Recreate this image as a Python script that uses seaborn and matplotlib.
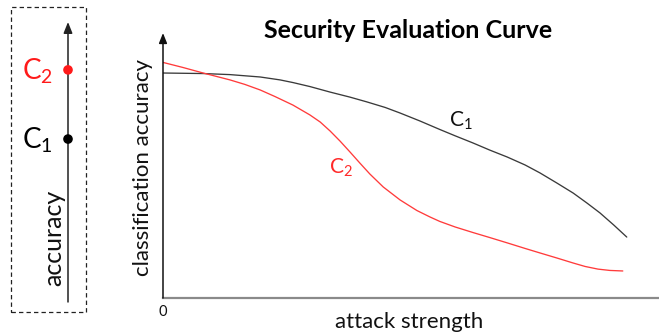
import matplotlib
matplotlib.use("Agg")
import matplotlib.pyplot as plt
from matplotlib.patches import Rectangle
import pandas as pd
import seaborn as sns

# Attack strength (0-100) and classification accuracy (%) for the two classifiers
strength_c1 = [0, 8.1, 13.5, 19.6, 23.6, 26.2, 29.6, 33.7, 37.7, 41.1, 44.8,
               47.8, 51.8, 55.8, 58.9, 62.5, 65.9, 69.4, 73.0, 76.0, 79.4,
               82.7, 85.5, 88.1, 90.9, 93.5]
accuracy_c1 = [84.9, 84.7, 84.3, 83.4, 82.3, 81.3, 79.8, 77.7, 75.8, 74.0,
               71.9, 69.8, 66.8, 63.6, 61.2, 58.5, 55.8, 53.2, 50.2, 47.2,
               43.4, 39.6, 35.8, 32.1, 27.5, 23.0]

strength_c2 = [0, 4.0, 8.1, 13.5, 16.5, 19.6, 22.6, 26.2, 29.6, 31.7, 33.7,
               35.7, 37.7, 39.7, 41.7, 44.4, 47.8, 51.2, 53.8, 55.8, 58.9,
               62.5, 65.9, 69.4, 73.0, 76.0, 79.4, 82.7, 85.1, 87.7, 90.1,
               92.7]
accuracy_c2 = [88.9, 87.0, 84.9, 82.3, 80.6, 78.5, 76.0, 72.8, 69.1, 66.4,
               63.0, 59.2, 55.1, 50.9, 46.8, 41.9, 37.0, 33.0, 30.6, 28.9,
               26.8, 24.7, 22.8, 20.8, 18.7, 17.0, 15.1, 13.2, 11.9, 10.9,
               10.4, 10.2]

# Accuracy without attack, shown on the single accuracy scale at the left
classifiers = ["C1", "C2"]
clean_accuracy = [58.2, 82.9]

x_ticks = [0]
x_tick_labels = ["0"]

sns.set_theme(style="white")
plt.rcParams["font.family"] = ["Lato", "DejaVu Sans"]
plt.rcParams["mathtext.fontset"] = "custom"
plt.rcParams["mathtext.rm"] = "Lato"
plt.rcParams["mathtext.it"] = "Lato"

W, H = 659, 333
fig = plt.figure(figsize=(W / 100, H / 100), dpi=100)
fig.patch.set_facecolor("white")

line_colors = {"C1": "#3a3a3a", "C2": "#ff3b3b"}
dot_colors = {"C1": "black", "C2": "#ff1a1a"}


def label(name):
    return r"$\mathrm{C}_{\mathrm{" + name[1:] + "}}$"


# ---------- left panel: accuracy scale ----------
fig.patches.append(Rectangle((11 / W, 1 - 312 / H), 75 / W, 305 / H,
                             transform=fig.transFigure, fill=False,
                             edgecolor="#222222", linewidth=0.9,
                             linestyle=(0, (3.5, 2.5))))

axl = fig.add_axes([0, 1 - 302 / H, 110 / W, 280 / H])
axl.set_xlim(0, 110)
axl.set_ylim(0, 100)
axl.axis("off")
axl.annotate("", xy=(68, 100), xytext=(68, 0),
             arrowprops=dict(arrowstyle="-|>,head_length=0.55,head_width=0.22",
                             color="#222222", lw=1.1, shrinkA=0, shrinkB=0))
left_df = pd.DataFrame({"classifier": classifiers,
                        "accuracy": clean_accuracy,
                        "pos": [68] * len(classifiers)})
sns.scatterplot(data=left_df, x="pos", y="accuracy", hue="classifier",
                palette=dot_colors, s=48, edgecolor="none", legend=False,
                ax=axl, zorder=3)
for name, acc in zip(classifiers, clean_accuracy):
    axl.text(37, acc - 0.5, label(name), ha="center", va="center",
             fontsize=20, color=dot_colors[name])
axl.text(0.49, (302 - 238) / 280, "accuracy", rotation=90, ha="center",
         va="center", fontsize=18, color="#111111", transform=axl.transAxes)

# ---------- main panel: security evaluation curve ----------
ax = fig.add_axes([163 / W, 1 - 298 / H, (W - 163) / W, 265 / H])
df = pd.concat([
    pd.DataFrame({"strength": strength_c1, "accuracy": accuracy_c1,
                  "classifier": "C1"}),
    pd.DataFrame({"strength": strength_c2, "accuracy": accuracy_c2,
                  "classifier": "C2"}),
])
sns.lineplot(data=df, x="strength", y="accuracy", hue="classifier",
             palette=line_colors, linewidth=0.95, legend=False, sort=False,
             estimator=None, ax=ax)
ax.set_xlim(0, 100)
ax.set_ylim(0, 100)

for s in ["top", "right", "left"]:
    ax.spines[s].set_visible(False)
ax.spines["bottom"].set_color("#8a8a8a")
ax.spines["bottom"].set_linewidth(1.6)
ax.annotate("", xy=(0, 1.0), xytext=(0, 0.0), xycoords="axes fraction",
            arrowprops=dict(arrowstyle="-|>,head_length=0.5,head_width=0.2",
                            color="#111111", lw=1.1, shrinkA=0, shrinkB=0),
            annotation_clip=False)

ax.set_xticks(x_ticks)
ax.set_xticklabels(x_tick_labels, fontsize=10.5, color="#111111")
ax.set_yticks([])
ax.tick_params(axis="x", length=0, pad=5)

ax.set_xlabel("attack strength", fontsize=16, color="#111111")
ax.xaxis.set_label_coords((409 - 163) / (W - 163), -(312 - 298) / 265)
ax.set_ylabel("classification accuracy", fontsize=16, color="#111111")
ax.yaxis.set_label_coords(-(163 - 153) / (W - 163), (298 - 167) / 265)

ax.text((461 - 163) / 496, (298 - 121) / 265, label("C1"), ha="center",
        va="center", fontsize=15, color="#111111", transform=ax.transAxes)
ax.text((341 - 163) / 496, (298 - 168) / 265, label("C2"), ha="center",
        va="center", fontsize=15, color="#ff2a2a", transform=ax.transAxes)

fig.text(408 / W, 1 - 31 / H, "Security Evaluation Curve", ha="center",
         va="center", fontsize=18, fontweight="bold", color="black")

fig.savefig("out.png", dpi=100, facecolor="white")
